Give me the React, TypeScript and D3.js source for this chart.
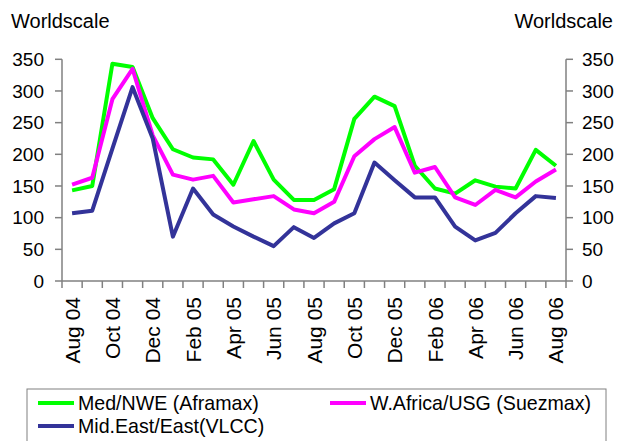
import React from "react";
import * as d3 from "d3";

const months = ["Aug 04","Sep 04","Oct 04","Nov 04","Dec 04","Jan 05","Feb 05","Mar 05","Apr 05","May 05","Jun 05","Jul 05","Aug 05","Sep 05","Oct 05","Nov 05","Dec 05","Jan 06","Feb 06","Mar 06","Apr 06","May 06","Jun 06","Jul 06","Aug 06"];
const medNWE = [143,150,343,338,257,208,195,192,152,221,160,128,128,145,256,291,276,182,146,138,159,149,146,207,182];
const wAfricaUSG = [152,163,287,335,230,168,160,166,124,129,134,113,107,125,197,224,243,171,180,132,120,144,132,157,176];
const midEastEast = [107,111,209,306,225,70,146,105,86,70,55,85,68,91,107,187,159,132,132,86,64,76,107,134,131];
const yTicks = [0,50,100,150,200,250,300,350];
const seriesNames = ["Med/NWE (Aframax)","W.Africa/USG (Suezmax)","Mid.East/East(VLCC)"];
const seriesColors = ["#00ff00","#ff00ff","#333399"];

export default function App() {
  const W = 629, H = 441;
  const left = 62, right = 566, top = 59.3, bottom = 281;
  const x = d3.scaleBand<string>().domain(months).range([left, right]);
  const y = d3.scaleLinear().domain([0, 350]).range([bottom, top]);
  const line = d3.line<number>().x((_, i) => (x(months[i]) as number) + x.bandwidth() / 2).y(d => y(d));
  const data = [medNWE, wAfricaUSG, midEastEast];
  const font = "'Liberation Sans', Arial, sans-serif";
  const axisColor = "#808080";
  const tickXs = months.map(m => x(m) as number).concat([right]);
  return (
    <svg width={W} height={H} style={{ position: "absolute", left: 0, top: 0, background: "#fff" }} fontFamily={font}>
      <text x={11} y={28} fontSize={20}>Worldscale</text>
      <text x={613} y={28} fontSize={20} textAnchor="end">Worldscale</text>
      {/* axes */}
      <line x1={left} x2={left} y1={top} y2={bottom} stroke={axisColor} strokeWidth={1.5} />
      <line x1={right} x2={right} y1={top} y2={bottom} stroke={axisColor} strokeWidth={1.5} />
      <line x1={left} x2={right} y1={bottom} y2={bottom} stroke={axisColor} strokeWidth={1.5} />
      {yTicks.map(t => (
        <g key={t}>
          <line x1={left - 7} x2={left} y1={y(t)} y2={y(t)} stroke={axisColor} strokeWidth={1.5} />
          <line x1={right} x2={right + 7} y1={y(t)} y2={y(t)} stroke={axisColor} strokeWidth={1.5} />
          <text x={44} y={y(t)} dy="0.36em" fontSize={19} textAnchor="end">{t}</text>
          <text x={582} y={y(t)} dy="0.36em" fontSize={19}>{t}</text>
        </g>
      ))}
      {tickXs.map((tx, i) => (
        <line key={i} x1={tx} x2={tx} y1={bottom} y2={bottom + 7} stroke={axisColor} strokeWidth={1.5} />
      ))}
      {months.map((m, i) => i % 2 === 0 ? (
        <text key={m} transform={`translate(${(x(m) as number) + x.bandwidth() / 2},297) rotate(-90)`} dy="0.36em" fontSize={21} textAnchor="end">{m}</text>
      ) : null)}
      {data.map((d, i) => (
        <path key={i} d={line(d) as string} fill="none" stroke={seriesColors[i]} strokeWidth={4} strokeLinejoin="round" />
      ))}
      {/* legend */}
      <rect x={27} y={389} width={579} height={60} fill="none" stroke={axisColor} strokeWidth={1} />
      {[
        { i: 0, lx: 38, ly: 403 },
        { i: 1, lx: 330, ly: 403 },
        { i: 2, lx: 38, ly: 426 },
      ].map(({ i, lx, ly }) => (
        <g key={i}>
          <line x1={lx} x2={lx + 36} y1={ly} y2={ly} stroke={seriesColors[i]} strokeWidth={4} />
          <text transform={`translate(${lx + 40},${ly}) scale(0.98,1)`} dy="0.36em" fontSize={20}>{seriesNames[i]}</text>
        </g>
      ))}
    </svg>
  );
}
